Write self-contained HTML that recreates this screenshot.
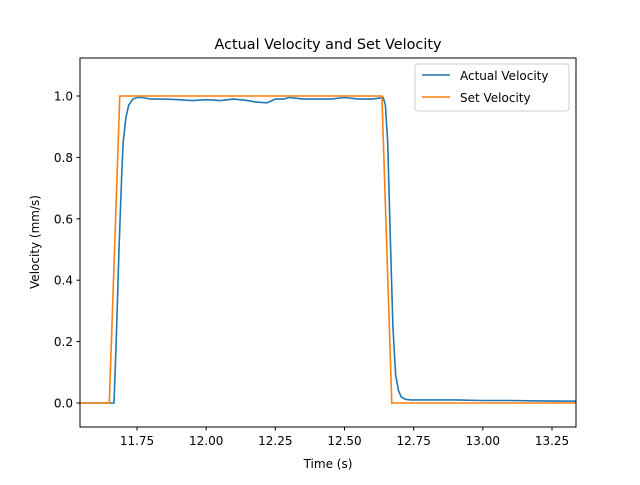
<!DOCTYPE html>
<html><head><meta charset="utf-8"><style>
body{margin:0;background:#fff;}
svg text{font-family:"DejaVu Sans","Liberation Sans",sans-serif;}
</style></head><body>
<svg id="chart" width="640" height="480" xmlns="http://www.w3.org/2000/svg">
<rect width="640" height="480" fill="#fff"/>
<text x="328" y="49" font-size="14.4" text-anchor="middle">Actual Velocity and Set Velocity</text>
<g id="plot"></g>
<rect x="80" y="58" width="496" height="369" fill="none" stroke="#000" stroke-width="1"/>
<g id="ticks"></g>
<text x="328" y="468" font-size="12" text-anchor="middle">Time (s)</text>
<text transform="translate(39,242) rotate(-90)" font-size="12" text-anchor="middle">Velocity (mm/s)</text>
<g>
<rect x="415" y="64" width="154" height="47" rx="3" fill="#fff" fill-opacity="0.8" stroke="#ccc"/>
<line x1="422" y1="75" x2="450" y2="75" stroke="#1f77b4" stroke-width="1.5"/>
<text x="460" y="80" font-size="12">Actual Velocity</text>
<line x1="422" y1="97" x2="450" y2="97" stroke="#ff7f0e" stroke-width="1.5"/>
<text x="460" y="102" font-size="12">Set Velocity</text>
</g>
</svg>
<script>
const xTicks=[11.75,12.00,12.25,12.50,12.75,13.00,13.25];
const xTickLabels=["11.75","12.00","12.25","12.50","12.75","13.00","13.25"];
const yTicks=[0,0.2,0.4,0.6,0.8,1.0];
const yTickLabels=["0.0","0.2","0.4","0.6","0.8","1.0"];
const setTime=[11.544,11.65,11.688,12.635,12.671,13.337];
const setVel=[0,0,1,1,0,0];
const actTime=[11.544,11.60,11.667,11.675,11.685,11.695,11.70,11.71,11.72,11.735,11.75,11.77,11.80,11.85,11.90,11.95,12.00,12.05,12.10,12.15,12.18,12.22,12.25,12.28,12.30,12.35,12.40,12.45,12.50,12.55,12.60,12.64,12.648,12.656,12.665,12.675,12.685,12.695,12.705,12.72,12.74,12.80,12.90,13.00,13.10,13.20,13.337];
const actVel=[0,0,0,0.2,0.5,0.75,0.85,0.93,0.97,0.99,0.995,0.995,0.99,0.99,0.988,0.985,0.988,0.985,0.99,0.985,0.98,0.978,0.99,0.99,0.995,0.99,0.99,0.99,0.995,0.99,0.99,0.995,0.97,0.85,0.55,0.25,0.09,0.04,0.02,0.012,0.01,0.01,0.01,0.008,0.008,0.007,0.006];
const X=t=>137+(t-11.75)*276.67;
const Y=v=>403-v*307;
const NS="http://www.w3.org/2000/svg";
const plot=document.getElementById('plot'), ticks=document.getElementById('ticks');
function line(ts,vs,color,name){
  const p=document.createElementNS(NS,'polyline');
  p.setAttribute('points',ts.map((t,i)=>X(t).toFixed(1)+','+Y(vs[i]).toFixed(1)).join(' '));
  p.setAttribute('fill','none');p.setAttribute('stroke',color);p.setAttribute('stroke-width','1.6');
  
  
  plot.appendChild(p);
}
line(actTime,actVel,'#1f77b4','actual-velocity-line');
line(setTime,setVel,'#ff7f0e','set-velocity-line');
xTicks.forEach((t,i)=>{
  const l=document.createElementNS(NS,'line');
  l.setAttribute('x1',X(t));l.setAttribute('x2',X(t));l.setAttribute('y1',427);l.setAttribute('y2',430.5);l.setAttribute('stroke','#000');
  
  
  ticks.appendChild(l);
  const tx=document.createElementNS(NS,'text');
  tx.setAttribute('x',X(t));tx.setAttribute('y',445);tx.setAttribute('font-size','12');tx.setAttribute('text-anchor','middle');
  tx.textContent=xTickLabels[i];
  
  
  ticks.appendChild(tx);
});
yTicks.forEach((v,i)=>{
  const l=document.createElementNS(NS,'line');
  l.setAttribute('x1',76.5);l.setAttribute('x2',80);l.setAttribute('y1',Y(v));l.setAttribute('y2',Y(v));l.setAttribute('stroke','#000');
  
  
  ticks.appendChild(l);
  const tx=document.createElementNS(NS,'text');
  tx.setAttribute('x',73);tx.setAttribute('y',Y(v)+4.5);tx.setAttribute('font-size','12');tx.setAttribute('text-anchor','end');
  tx.textContent=yTickLabels[i];
  
  
  ticks.appendChild(tx);
});
</script>
</body></html>
